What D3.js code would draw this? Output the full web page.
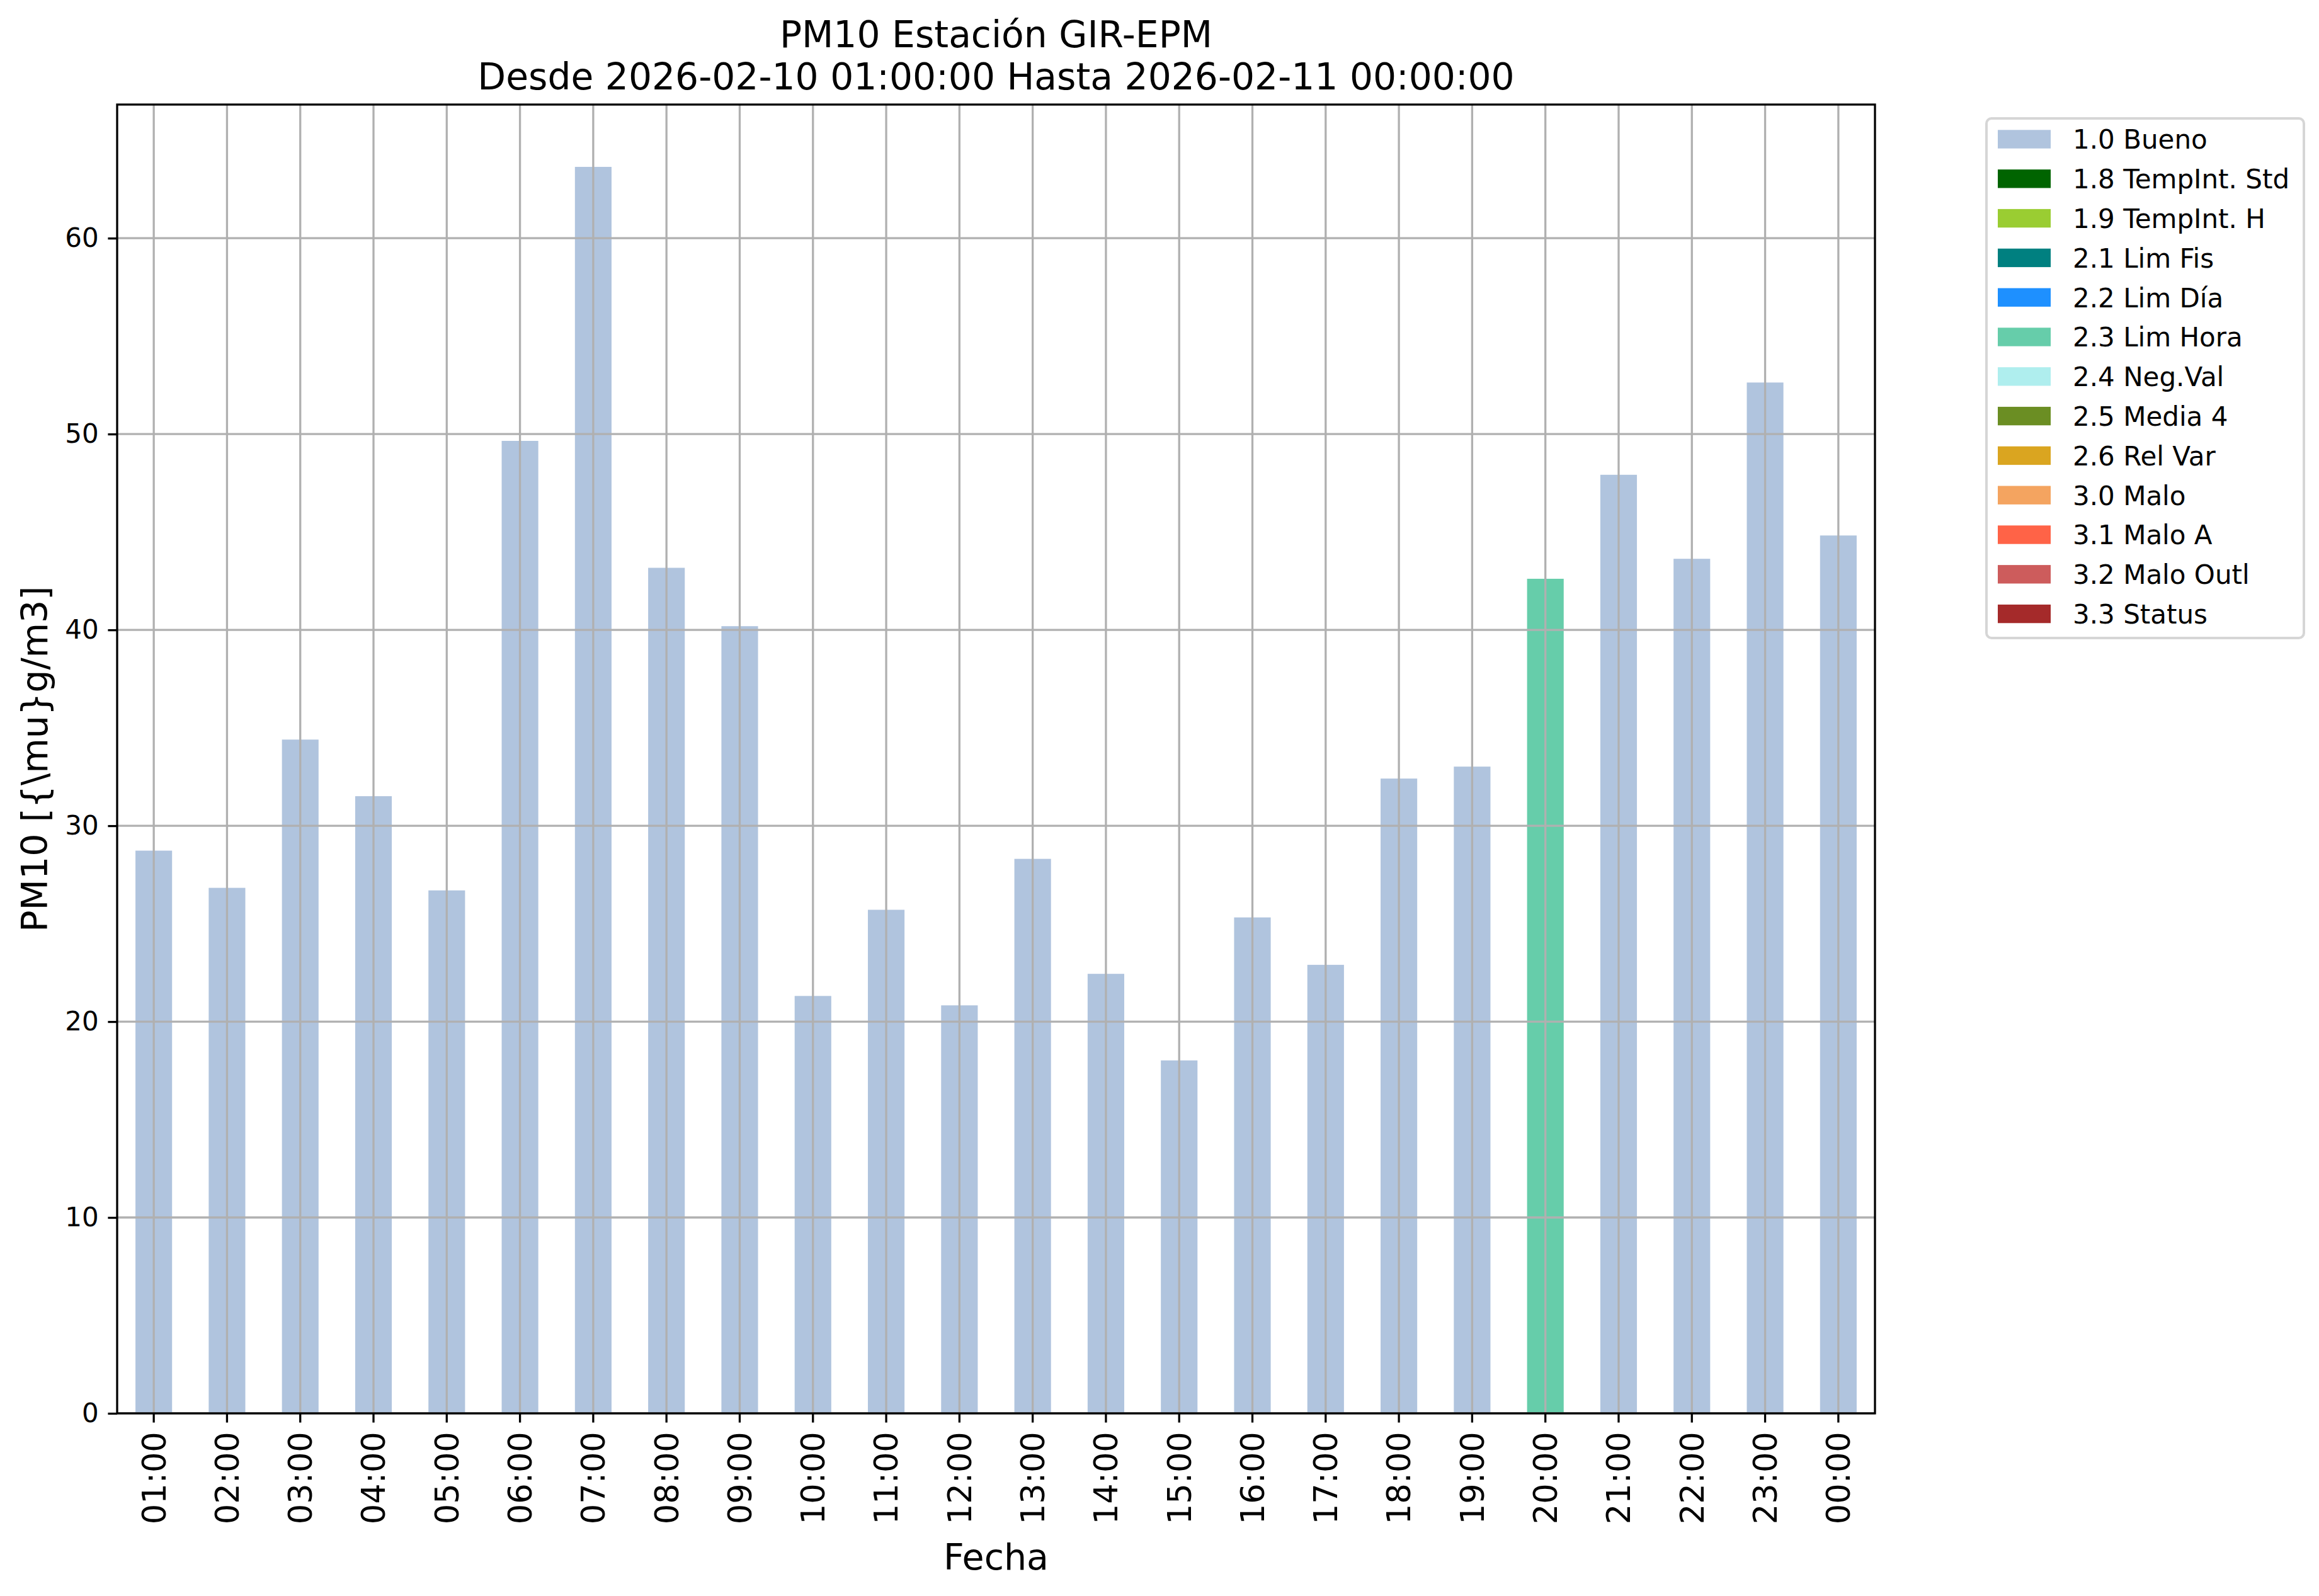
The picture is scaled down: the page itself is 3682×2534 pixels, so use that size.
<!DOCTYPE html>
<html>
<head>
<meta charset="utf-8">
<script src="https://cdn.jsdelivr.net/npm/d3@7"></script>
<style>
  html, body { margin: 0; padding: 0; background: #fff; }
  svg { display: block; }
  text { font-family: "DejaVu Sans", sans-serif; fill: #000; }
</style>
</head>
<body>
<svg id="chart" width="3682" height="2534"></svg>
<script>
// ---- data ----
const categories = ["01:00","02:00","03:00","04:00","05:00","06:00","07:00","08:00","09:00","10:00","11:00","12:00",
                    "13:00","14:00","15:00","16:00","17:00","18:00","19:00","20:00","21:00","22:00","23:00","00:00"];
const values = [28.73, 26.83, 34.40, 31.51, 26.70, 49.65, 63.64, 43.17, 40.19, 21.31, 25.71, 20.83,
                28.31, 22.44, 18.02, 25.32, 22.90, 32.41, 33.02, 42.61, 47.92, 43.63, 52.63, 44.82];
const flags = ["1.0 Bueno","1.0 Bueno","1.0 Bueno","1.0 Bueno","1.0 Bueno","1.0 Bueno","1.0 Bueno","1.0 Bueno",
               "1.0 Bueno","1.0 Bueno","1.0 Bueno","1.0 Bueno","1.0 Bueno","1.0 Bueno","1.0 Bueno","1.0 Bueno",
               "1.0 Bueno","1.0 Bueno","1.0 Bueno","2.3 Lim Hora","1.0 Bueno","1.0 Bueno","1.0 Bueno","1.0 Bueno"];
const legendLabels = ["1.0 Bueno","1.8 TempInt. Std","1.9 TempInt. H","2.1 Lim Fis","2.2 Lim Día","2.3 Lim Hora",
                      "2.4 Neg.Val","2.5 Media 4","2.6 Rel Var","3.0 Malo","3.1 Malo A","3.2 Malo Outl","3.3 Status"];
const legendColors = ["#b0c4de","#006400","#9acd32","#008080","#1e90ff","#66cdaa",
                      "#afeeee","#6b8e23","#daa520","#f4a460","#ff6347","#cd5c5c","#a52a2a"];
const yTicks = [0, 10, 20, 30, 40, 50, 60];
const titleLines = ["PM10 Estación GIR-EPM", "Desde 2026-02-10 01:00:00 Hasta 2026-02-11 00:00:00"];
const xLabel = "Fecha";
const yLabel = "PM10 [{\\mu}g/m3]";

// ---- layout ----
const L = 186, R = 2977, T = 166, B = 2244;
const svg = d3.select("#chart");

const x = d3.scaleBand().domain(categories).range([L, R]).paddingInner(0).paddingOuter(0);
const y = d3.scaleLinear().domain([0, d3.max(values) * 1.05]).range([B, T]);
const color = d3.scaleOrdinal().domain(legendLabels).range(legendColors);

const data = categories.map((c, i) => ({cat: c, v: values[i], flag: flags[i]}));

// bars
const bw = x.bandwidth() * 0.5;
svg.append("g").selectAll("rect").data(data).join("rect")
  .attr("x", d => x(d.cat) + x.bandwidth() / 2 - bw / 2)
  .attr("width", bw)
  .attr("y", d => y(d.v))
  .attr("height", d => y(0) - y(d.v))
  .attr("fill", d => color(d.flag));

// grid (drawn above bars)
const grid = svg.append("g").attr("stroke", "#b0b0b0").attr("stroke-width", 3.3);
grid.selectAll("line.h").data(yTicks).join("line").attr("class", "h")
  .attr("x1", L).attr("x2", R).attr("y1", d => y(d)).attr("y2", d => y(d));
grid.selectAll("line.v").data(categories).join("line").attr("class", "v")
  .attr("x1", d => x(d) + x.bandwidth() / 2).attr("x2", d => x(d) + x.bandwidth() / 2)
  .attr("y1", T).attr("y2", B);

// axes
const yAxis = d3.axisLeft(y).tickValues(yTicks).tickSize(14.6).tickPadding(14.6).tickFormat(d3.format("d"));
const gy = svg.append("g").attr("transform", `translate(${L},0)`).call(yAxis);
gy.select(".domain").remove();
gy.selectAll(".tick line").attr("stroke", "#000").attr("stroke-width", 3.3);
gy.selectAll(".tick text").attr("font-size", 42).attr("font-family", "DejaVu Sans").attr("fill", "#000");

const xAxis = d3.axisBottom(x).tickSize(14.6).tickPadding(14.6);
const gx = svg.append("g").attr("transform", `translate(0,${B})`).call(xAxis);
gx.select(".domain").remove();
gx.selectAll(".tick line").attr("stroke", "#000").attr("stroke-width", 3.3);
gx.selectAll(".tick text")
  .attr("font-size", 51).attr("font-family", "DejaVu Sans").attr("fill", "#000")
  .attr("text-anchor", "end")
  .attr("y", 0).attr("dy", "0.36em")
  .attr("transform", "translate(0,29.2) rotate(-90)");

// spines
svg.append("rect").attr("x", L).attr("y", T).attr("width", R - L).attr("height", B - T)
  .attr("fill", "none").attr("stroke", "#000").attr("stroke-width", 3.3);

// title
svg.append("g").selectAll("text").data(titleLines).join("text")
  .attr("x", (L + R) / 2).attr("y", (d, i) => 75 + i * 67)
  .attr("text-anchor", "middle").attr("font-size", 58.3).text(d => d);

// axis labels
svg.append("text").attr("x", (L + R) / 2).attr("y", 2492)
  .attr("text-anchor", "middle").attr("font-size", 57).text(xLabel);
svg.append("text").attr("transform", `translate(75,${(T + B) / 2}) rotate(-90)`)
  .attr("text-anchor", "middle").attr("font-size", 57).text(yLabel);

// legend
const lg = svg.append("g");
lg.append("rect").attr("x", 3154).attr("y", 188).attr("width", 504).attr("height", 825)
  .attr("rx", 8).attr("ry", 8).attr("fill", "#fff").attr("stroke", "#d6d6d6").attr("stroke-width", 4);
const rowY = i => 221 + i * 62.8;
lg.selectAll("rect.sw").data(legendLabels).join("rect").attr("class", "sw")
  .attr("x", 3172).attr("y", (d, i) => rowY(i) - 14.7).attr("width", 84).attr("height", 29.4)
  .attr("fill", d => color(d));
lg.selectAll("text").data(legendLabels).join("text")
  .attr("x", 3291).attr("y", (d, i) => rowY(i) + 15.3)
  .attr("font-size", 42).text(d => d);
</script>
</body>
</html>
